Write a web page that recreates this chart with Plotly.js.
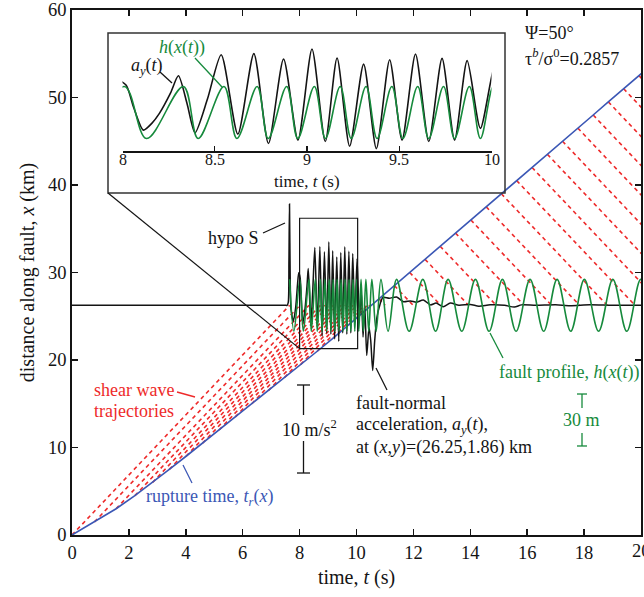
<!DOCTYPE html>
<html><head><meta charset="utf-8">
<script src="https://cdn.plot.ly/plotly-3.0.1.min.js"></script>
<style>html,body{margin:0;padding:0;background:#fff}#chart{width:644px;height:597px}</style>
</head><body><div id="chart"></div>
<script>
// ---------------- data ----------------
const stationX = 26.25;            // km, recording station position along fault
// rupture front t_r(x)
const ruptureX = [0,1.5,3,4.5,6,7.5,9,10.5,12,13.5,15,16.5,18,19.5,21,22.5,24,25.5,27,28.5,30,31.5,33,34.5,36,37.5,39,40.5,42,43.5,45,46.5,48,49.5,51,52.5,54];
const ruptureT = [0,0.79,1.55,2.21,2.83,3.42,4.01,4.59,5.17,5.74,6.32,6.90,7.47,8.04,8.62,9.18,9.72,10.25,10.79,11.33,11.87,12.41,12.94,13.48,14.02,14.56,15.09,15.63,16.17,16.71,17.24,17.78,18.32,18.85,19.39,19.93,20.47];
// shear-wave trajectories: arrival time at the station for each source point
const trajArrivalT = [7.65,8.01,8.33,8.55,8.73,8.89,9.04,9.18,9.32,9.46,9.60,9.74,9.88,10.01,10.15,10.27,10.38,10.47,
                      11.01,11.99,12.96,13.94,14.91,15.89,16.86,17.84,18.81,19.79,20.76,21.74,22.71,23.68,24.66,25.63,26.61,27.58];
// fault profile h(x(t)) seen at the station (m), extrema
const profileT = [7.65,7.80,8.01,8.13,8.33,8.41,8.55,8.62,8.73,8.79,8.89,8.95,9.04,9.10,9.18,9.24,9.32,9.38,9.46,9.52,9.60,9.66,9.74,9.80,9.88,9.94,10.01,10.08,10.16,10.24,10.33,10.43,10.54,10.69,10.86,11.11,11.41,11.85,12.33,12.78,13.22,13.70,14.18,14.66,15.13,15.61,16.10,16.58,17.05,17.53,18.01,18.51,19.01,19.50,19.99,20.45];
const profileH = [15,-15,15,-15,15,-15,15,-15,15,-15,15,-15,15,-15,15,-15,15,-15,15,-15,15,-15,15,-15,15,-15,15,-15,15,-15,15,-15,15,-15,15,-15,15,-15,15,-15,15,-15,15,-15,15,-15,15,-15,15,-15,15,-15,15,-15,15,-15];
// fault-normal acceleration a_y(t) (m/s^2)
const accT = [0,2,4,6,7,7.4,7.5,7.56,7.6,7.625,7.645,7.67,7.70,7.78,7.86,7.93,7.97,8.02,8.06,8.113,8.16,8.20,8.26,8.303,8.35,8.393,8.46,8.535,8.625,8.712,8.791,8.873,8.951,9.027,9.099,9.163,9.231,9.307,9.376,9.448,9.515,9.588,9.660,9.732,9.800,9.868,9.940,10.02,10.10,10.17,10.23,10.29,10.36,10.44,10.50,10.57,10.64,10.71,10.80,10.93,11.15,11.41,11.65,11.90,12.10,12.35,12.60,12.80,13.05,13.30,13.60,14.0,14.3,14.7,15.2,15.55,15.8,16.3,17.0,17.5,18.2,19.0,20.0];
const accA = [0,0,0,0,0,0,0,0,0.3,5,11.5,3,-0.5,-1.8,-0.3,2.5,3.7,3.1,0.6,-2.0,-1.2,-0.1,2.2,4.17,1.0,-2.3,1.5,6.57,-2.46,6.69,-3.52,6.08,-3.14,7.22,-3.3,6.19,-3.83,5.5,-4.1,6.0,-3.14,6.65,-3.3,6.15,-3.14,5.89,-1.8,5.3,-1.5,1.5,-3.6,0.0,-5.7,-2.5,-4.0,-7.4,-4.0,-1.5,-0.2,0.9,0.8,0.95,0.4,0.5,0.35,0.6,0.05,0.25,-0.15,0.25,0.0,0.1,-0.1,0.05,0.0,-0.2,0.05,0.0,0.05,-0.05,0.05,0.0,0.0];
const xTicks = [0,2,4,6,8,10,12,14,16,18,20];
const yTicks = [0,10,20,30,40,50,60];
const insetTicks = [8,8.5,9,9.5,10];
const insetTickText = ['8','8.5','9','9.5','10'];

// plotting scales (km of plot per physical unit)
const hScale = 5.94/30;   // km per m
const aScale = 1.006;     // km per m/s^2

// ---------------- helpers for layout positions (pixel -> main data) ----------------
const L=72, R=641, TOP=10, BOT=535;
const T = px => (px-L)/(R-L)*20;
const X = py => (BOT-py)/(BOT-TOP)*60;

const RED='#ee2a2a', BLUE='#3b57b5', GREEN='#168a3c', BLACK='#141414';
const FONT='Liberation Serif, Times New Roman, serif';

// trajectories
const trX=[], trY=[];
for(let i=0;i<trajArrivalT.length;i++){
  trX.push(ruptureT[i], trajArrivalT[i], null);
  trY.push(ruptureX[i], stationX, null);
}
const gY = profileH.map(h=>stationX+h*hScale);
const aY = accA.map(a=>stationX+a*aScale);

const traces = [
  {x:trX,y:trY,mode:'lines',line:{color:RED,width:1.6,dash:'4px,3.5px'},hoverinfo:'skip'},
  {x:ruptureT,y:ruptureX,mode:'lines',line:{color:BLUE,width:1.6}},
  {x:accT,y:aY,mode:'lines',line:{color:BLACK,width:1.5,shape:'spline',smoothing:0.7}},
  {x:profileT,y:gY,mode:'lines',line:{color:GREEN,width:1.6,shape:'spline',smoothing:1}},
  {x:accT,y:aY,xaxis:'x2',yaxis:'y2',mode:'lines',line:{color:BLACK,width:1.6,shape:'spline',smoothing:0.7}},
  {x:profileT,y:gY,xaxis:'x2',yaxis:'y2',mode:'lines',line:{color:GREEN,width:1.6,shape:'spline',smoothing:1}}
];

function seg(x0,y0,x1,y1,color,w){
  return {type:'line',xref:'x',yref:'y',x0:T(x0),y0:X(y0),x1:T(x1),y1:X(y1),line:{color:color,width:w||1.3}};
}
const shapes = [
  {type:'rect',xref:'x',yref:'y',x0:T(108),x1:T(505),y0:X(193),y1:X(33),line:{color:'#333',width:1.5}},
  {type:'rect',xref:'x',yref:'y',x0:8.0,x1:10.04,y0:21.3,y1:36.2,line:{color:BLACK,width:1.2}},
  {type:'line',xref:'x',yref:'y',x0:T(108),y0:X(193),x1:8.0,y1:21.3,line:{color:BLACK,width:1.2}},
  seg(263,233,285,223,BLACK),
  seg(160,72,172,83,BLACK),
  seg(195,58,222,87,GREEN),
  seg(177,392,195,397,RED),
  seg(183,465,192,483,BLUE),
  seg(376,368,387,390,BLACK),
  seg(490,333,503,358,GREEN)
];
// scale bars
const aBarC = X(429), aBarHalf = 10*aScale/2, aBarX = T(303.5);
shapes.push({type:'line',xref:'x',yref:'y',x0:aBarX,x1:aBarX,y0:aBarC+aBarHalf,y1:X(415),line:{color:BLACK,width:1.3}});
shapes.push({type:'line',xref:'x',yref:'y',x0:aBarX,x1:aBarX,y0:X(441),y1:aBarC-aBarHalf,line:{color:BLACK,width:1.3}});
shapes.push({type:'line',xref:'x',yref:'y',x0:T(297),x1:T(310),y0:aBarC+aBarHalf,y1:aBarC+aBarHalf,line:{color:BLACK,width:1.3}});
shapes.push({type:'line',xref:'x',yref:'y',x0:T(297),x1:T(310),y0:aBarC-aBarHalf,y1:aBarC-aBarHalf,line:{color:BLACK,width:1.3}});
const hBarC = X(420), hBarHalf = 30*hScale/2, hBarX = T(582);
shapes.push({type:'line',xref:'x',yref:'y',x0:hBarX,x1:hBarX,y0:hBarC+hBarHalf,y1:X(408),line:{color:GREEN,width:1.3}});
shapes.push({type:'line',xref:'x',yref:'y',x0:hBarX,x1:hBarX,y0:X(433),y1:hBarC-hBarHalf,line:{color:GREEN,width:1.3}});
shapes.push({type:'line',xref:'x',yref:'y',x0:T(577),x1:T(587),y0:hBarC+hBarHalf,y1:hBarC+hBarHalf,line:{color:GREEN,width:1.3}});
shapes.push({type:'line',xref:'x',yref:'y',x0:T(577),x1:T(587),y0:hBarC-hBarHalf,y1:hBarC-hBarHalf,line:{color:GREEN,width:1.3}});

function ann(text,px,py,color,anchor,size){
  return {text:text,x:T(px),y:X(py),xref:'x',yref:'y',showarrow:false,xanchor:anchor||'left',yanchor:'middle',
          font:{family:FONT,size:size||18,color:color||BLACK}};
}
const annotations = [
  ann('Ψ=50°',523,33),
  ann('τ<sup><i>b</i></sup>/σ<sup>0</sup>=0.2857',523,57),
  ann('hypo S',261,238,BLACK,'right'),
  ann('<i>a<sub>y</sub></i>(<i>t</i>)',129,66),
  ann('<i>h</i>(<i>x</i>(<i>t</i>))',157,47,GREEN),
  ann('time, <i>t</i> (s)',307,181,BLACK,'center',17),
  ann('shear wave',92,390,RED),
  ann('trajectories',92,411,RED),
  ann('10 m/s<sup>2</sup>',309,428,BLACK,'center'),
  ann('fault-normal',354,403),
  ann('acceleration, <i>a<sub>y</sub></i>(<i>t</i>),',354,425),
  ann('at (<i>x</i>,<i>y</i>)=(26.25,1.86) km',354,447),
  ann('fault profile, <i>h</i>(<i>x</i>(<i>t</i>))',497,372,GREEN),
  ann('30 m',581,420,GREEN,'center'),
  ann('rupture time, <i>t<sub>r</sub></i>(<i>x</i>)',144,497,BLUE)
];
// inset tick labels, sitting close under the inset axis line
insetTicks.forEach((v,i)=>{
  annotations.push({text:insetTickText[i],x:v,y:0,xref:'x2',yref:'y2 domain',showarrow:false,xanchor:'center',yanchor:'top',
    yshift:2,font:{family:FONT,size:16,color:BLACK}});
});
// last main x tick label, partly cut by the right edge as in the original
annotations.push({text:'20',x:1,y:(BOT-551)/(BOT-TOP),xref:'paper',yref:'paper',showarrow:false,xanchor:'center',yanchor:'middle',
  font:{family:FONT,size:18.5,color:BLACK}});

const axCommon = {showgrid:false,zeroline:false,showline:true,linecolor:BLACK,linewidth:1.8,
  ticks:'inside',ticklen:6,tickwidth:1.5,tickcolor:BLACK,mirror:'ticks',
  tickfont:{family:FONT,size:18.5,color:BLACK}};

const layout = {
  width:644,height:597,margin:{l:L,r:644-R,t:TOP,b:597-BOT},
  paper_bgcolor:'#fff',plot_bgcolor:'#fff',showlegend:false,
  xaxis:Object.assign({},axCommon,{range:[0,20],tickvals:xTicks,
    title:{text:'time, <i>t</i> (s)',font:{family:FONT,size:20,color:BLACK},standoff:8}}),
  yaxis:Object.assign({},axCommon,{range:[0,60],tickvals:yTicks,
    title:{text:'distance along fault, <i>x</i> (km)',font:{family:FONT,size:20,color:BLACK},standoff:8}}),
  xaxis2:{anchor:'y2',domain:[(122.5-L)/(R-L),(491.5-L)/(R-L)],range:[8,10],tickvals:insetTicks,showticklabels:false,
    showgrid:false,zeroline:false,showline:true,linecolor:BLACK,linewidth:1.5,ticks:'inside',ticklen:5,tickwidth:1.3,tickcolor:BLACK},
  yaxis2:{anchor:'x2',domain:[(BOT-151)/(BOT-TOP),(BOT-35)/(BOT-TOP)],range:[21.85,35.11],visible:false},
  shapes:shapes,annotations:annotations
};
Plotly.newPlot('chart',traces,layout,{staticPlot:true,displayModeBar:false});
</script></body></html>
